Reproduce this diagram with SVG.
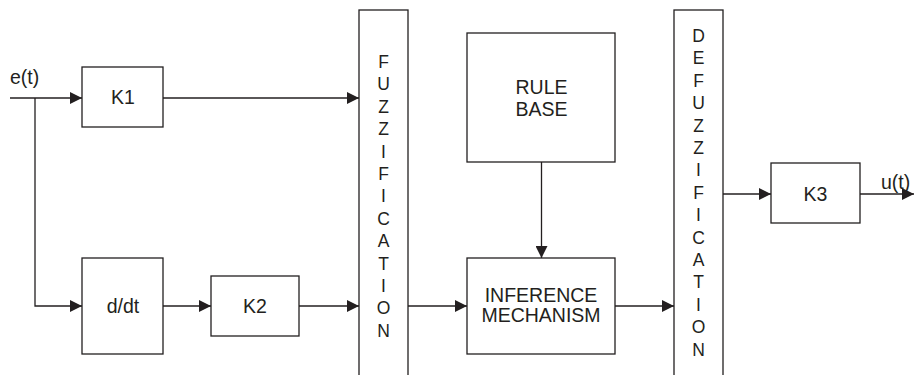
<svg xmlns="http://www.w3.org/2000/svg" width="914" height="375" viewBox="0 0 914 375">
<style>
.box{fill:#fff;stroke:#231f20;stroke-width:1.3}
.ln{fill:none;stroke:#231f20;stroke-width:1.3}
text{font-family:"Liberation Sans",Arial,sans-serif;font-size:19.5px;fill:#231f20;text-anchor:middle}
.col{font-size:17.5px}
.lbl{text-anchor:start;font-size:19.5px}
</style>
<defs>
<marker id="ah" markerWidth="12" markerHeight="12" refX="12" refY="6" orient="auto" markerUnits="userSpaceOnUse">
<path d="M0,0 L12,6 L0,12 Z" fill="#231f20"/>
</marker>
</defs>
<g id="connectors">
<path class="ln" d="M10,98 H82" marker-end="url(#ah)"/>
<path class="ln" d="M35,98 V306 H82" marker-end="url(#ah)"/>
<path class="ln" d="M163,98 H359" marker-end="url(#ah)"/>
<path class="ln" d="M163,306 H211" marker-end="url(#ah)"/>
<path class="ln" d="M299,306 H359" marker-end="url(#ah)"/>
<path class="ln" d="M408,306 H467" marker-end="url(#ah)"/>
<path class="ln" d="M541.5,162 V258" marker-end="url(#ah)"/>
<path class="ln" d="M615,306 H674" marker-end="url(#ah)"/>
<path class="ln" d="M723,194 H771" marker-end="url(#ah)"/>
<path class="ln" d="M860,194 H914" marker-end="url(#ah)"/>
</g>
<g id="input-label"><text class="lbl" x="10" y="84">e(t)</text></g>
<g id="output-label"><text class="lbl" x="881" y="189">u(t)</text></g>
<g id="k1"><rect class="box" x="82" y="67" width="81" height="60"/><text x="123" y="104">K1</text></g>
<g id="ddt"><rect class="box" x="82" y="258" width="81" height="96"/><text x="123" y="313">d/dt</text></g>
<g id="k2"><rect class="box" x="211" y="276" width="88" height="60"/><text x="255" y="313">K2</text></g>
<g id="fuzzification"><rect class="box" x="359" y="10" width="49" height="380"/>
<text class="col" x="383.5" y="68">F</text><text class="col" x="383.5" y="90.4">U</text><text class="col" x="383.5" y="112.8">Z</text><text class="col" x="383.5" y="135.2">Z</text><text class="col" x="383.5" y="157.6">I</text><text class="col" x="383.5" y="180">F</text><text class="col" x="383.5" y="202.4">I</text><text class="col" x="383.5" y="224.8">C</text><text class="col" x="383.5" y="247.2">A</text><text class="col" x="383.5" y="269.6">T</text><text class="col" x="383.5" y="292">I</text><text class="col" x="383.5" y="314.4">O</text><text class="col" x="383.5" y="336.8">N</text>
</g>
<g id="rulebase"><rect class="box" x="467" y="33" width="148" height="129"/><text x="541.5" y="94">RULE</text><text x="541.5" y="116">BASE</text></g>
<g id="inference"><rect class="box" x="467" y="258" width="148" height="96"/><text x="541" y="302">INFERENCE</text><text x="541" y="322">MECHANISM</text></g>
<g id="defuzzification"><rect class="box" x="674" y="10" width="49" height="380"/>
<text class="col" x="698.5" y="42">D</text><text class="col" x="698.5" y="64.4">E</text><text class="col" x="698.5" y="86.8">F</text><text class="col" x="698.5" y="109.2">U</text><text class="col" x="698.5" y="131.6">Z</text><text class="col" x="698.5" y="154">Z</text><text class="col" x="698.5" y="176.4">I</text><text class="col" x="698.5" y="198.8">F</text><text class="col" x="698.5" y="221.2">I</text><text class="col" x="698.5" y="243.6">C</text><text class="col" x="698.5" y="266">A</text><text class="col" x="698.5" y="288.4">T</text><text class="col" x="698.5" y="310.8">I</text><text class="col" x="698.5" y="333.2">O</text><text class="col" x="698.5" y="355.6">N</text>
</g>
<g id="k3"><rect class="box" x="771" y="163" width="89" height="60"/><text x="815.5" y="201">K3</text></g>
</svg>
